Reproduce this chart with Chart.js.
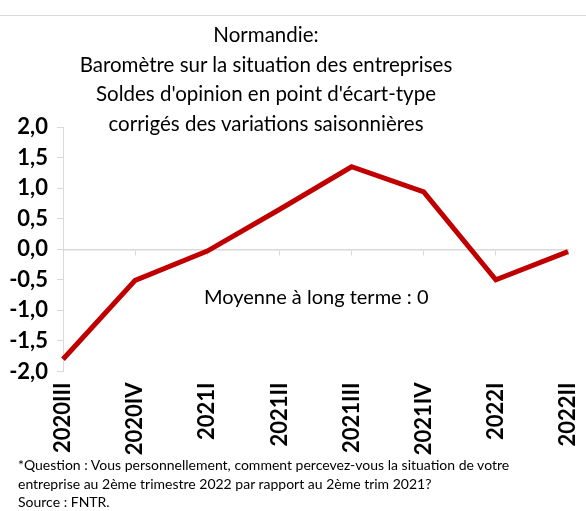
<!DOCTYPE html>
<html>
<head>
<meta charset="utf-8">
<script src="https://cdn.jsdelivr.net/npm/chart.js@4"></script>
<style>
  body { margin: 0; background: #fff; font-family: Lato, sans-serif; }
  #wrap { position: relative; width: 586px; height: 511px; overflow: hidden; }
  #topline { position: absolute; left: 0; top: 15px; width: 586px; height: 1px; background: #d9d9d9; }
  #title { position: absolute; left: 0; top: 20px; width: 532px; text-align: center;
           font-size: 20.5px; line-height: 29.5px; color: #000; }
  #note { position: absolute; left: 204px; top: 284px; font-size: 20px; color: #000; white-space: nowrap; }
  #foot { position: absolute; left: 18px; top: 456px; font-size: 14px; line-height: 18.7px; color: #000; white-space: nowrap; }
  canvas { position: absolute; left: 0; top: 0; }
</style>
</head>
<body>
<div id="wrap">
  <div id="topline"></div>
  <canvas id="chart" width="586" height="511"></canvas>
  <div id="title">Normandie:<br>Baromètre sur la situation des entreprises<br>Soldes d'opinion en point d'écart-type<br>corrigés des variations saisonnières</div>
  <div id="note">Moyenne à long terme : 0</div>
  <div id="foot">*Question : Vous personnellement, comment percevez-vous la situation de votre<br>entreprise au 2ème trimestre 2022 par rapport au 2ème trim 2021?<br>Source : FNTR.</div>
</div>
<script>
// Data
const quarters = ["2020III", "2020IV", "2021I", "2021II", "2021III", "2021IV", "2022I", "2022II"];
const soldes = [-1.80, -0.51, -0.03, 0.65, 1.35, 0.94, -0.50, -0.04];
const yTicks = [-2, -1.5, -1, -0.5, 0, 0.5, 1, 1.5, 2];

const grey = "#d9d9d9";

// keep rotated labels from pushing the plot area in
function noSidePadding(s) {
    s.paddingLeft = 0;
    s.paddingRight = 0;
}

new Chart(document.getElementById("chart"), {
    type: "line",
    data: {
        labels: quarters,
        datasets: [{
            data: soldes,
            borderColor: "#c00000",
            borderWidth: 5,
            pointRadius: 0,
            tension: 0,
            fill: false
        }]
    },
    options: {
        responsive: false,
        animation: false,
        layout: { padding: { top: 127, right: 18, bottom: 0, left: 0 } },
        plugins: { legend: { display: false }, tooltip: { enabled: false } },
        scales: {
            y: {
                min: yTicks[0],
                max: yTicks[yTicks.length - 1],
                afterFit: s => { s.width = 63; },
                afterBuildTicks: s => { s.ticks = yTicks.map(v => ({ value: v })); },
                grid: { drawOnChartArea: false, color: grey, tickLength: 6 },
                border: { color: grey, width: 1 },
                ticks: {
                    padding: 9,
                    color: "#000",
                    font: { family: "Lato", size: 22, weight: "bold" },
                    callback: v => v.toFixed(1).replace(".", ",")
                }
            },
            x: {
                afterFit: s => { s.height = 139.5; noSidePadding(s); },
                grid: { display: false, drawTicks: false },
                border: { display: false },
                ticks: {
                    padding: 11,
                    maxRotation: 90,
                    minRotation: 90,
                    color: "#000",
                    font: { family: "Lato", size: 22, weight: "bold" }
                }
            },
            x0: {
                type: "category",
                labels: quarters,
                position: { y: 0 },
                afterFit: noSidePadding,
                grid: { drawOnChartArea: false, color: grey, tickLength: 5 },
                border: { color: grey, width: 1.5 },
                ticks: { display: false }
            }
        }
    }
});
</script>
</body>
</html>
